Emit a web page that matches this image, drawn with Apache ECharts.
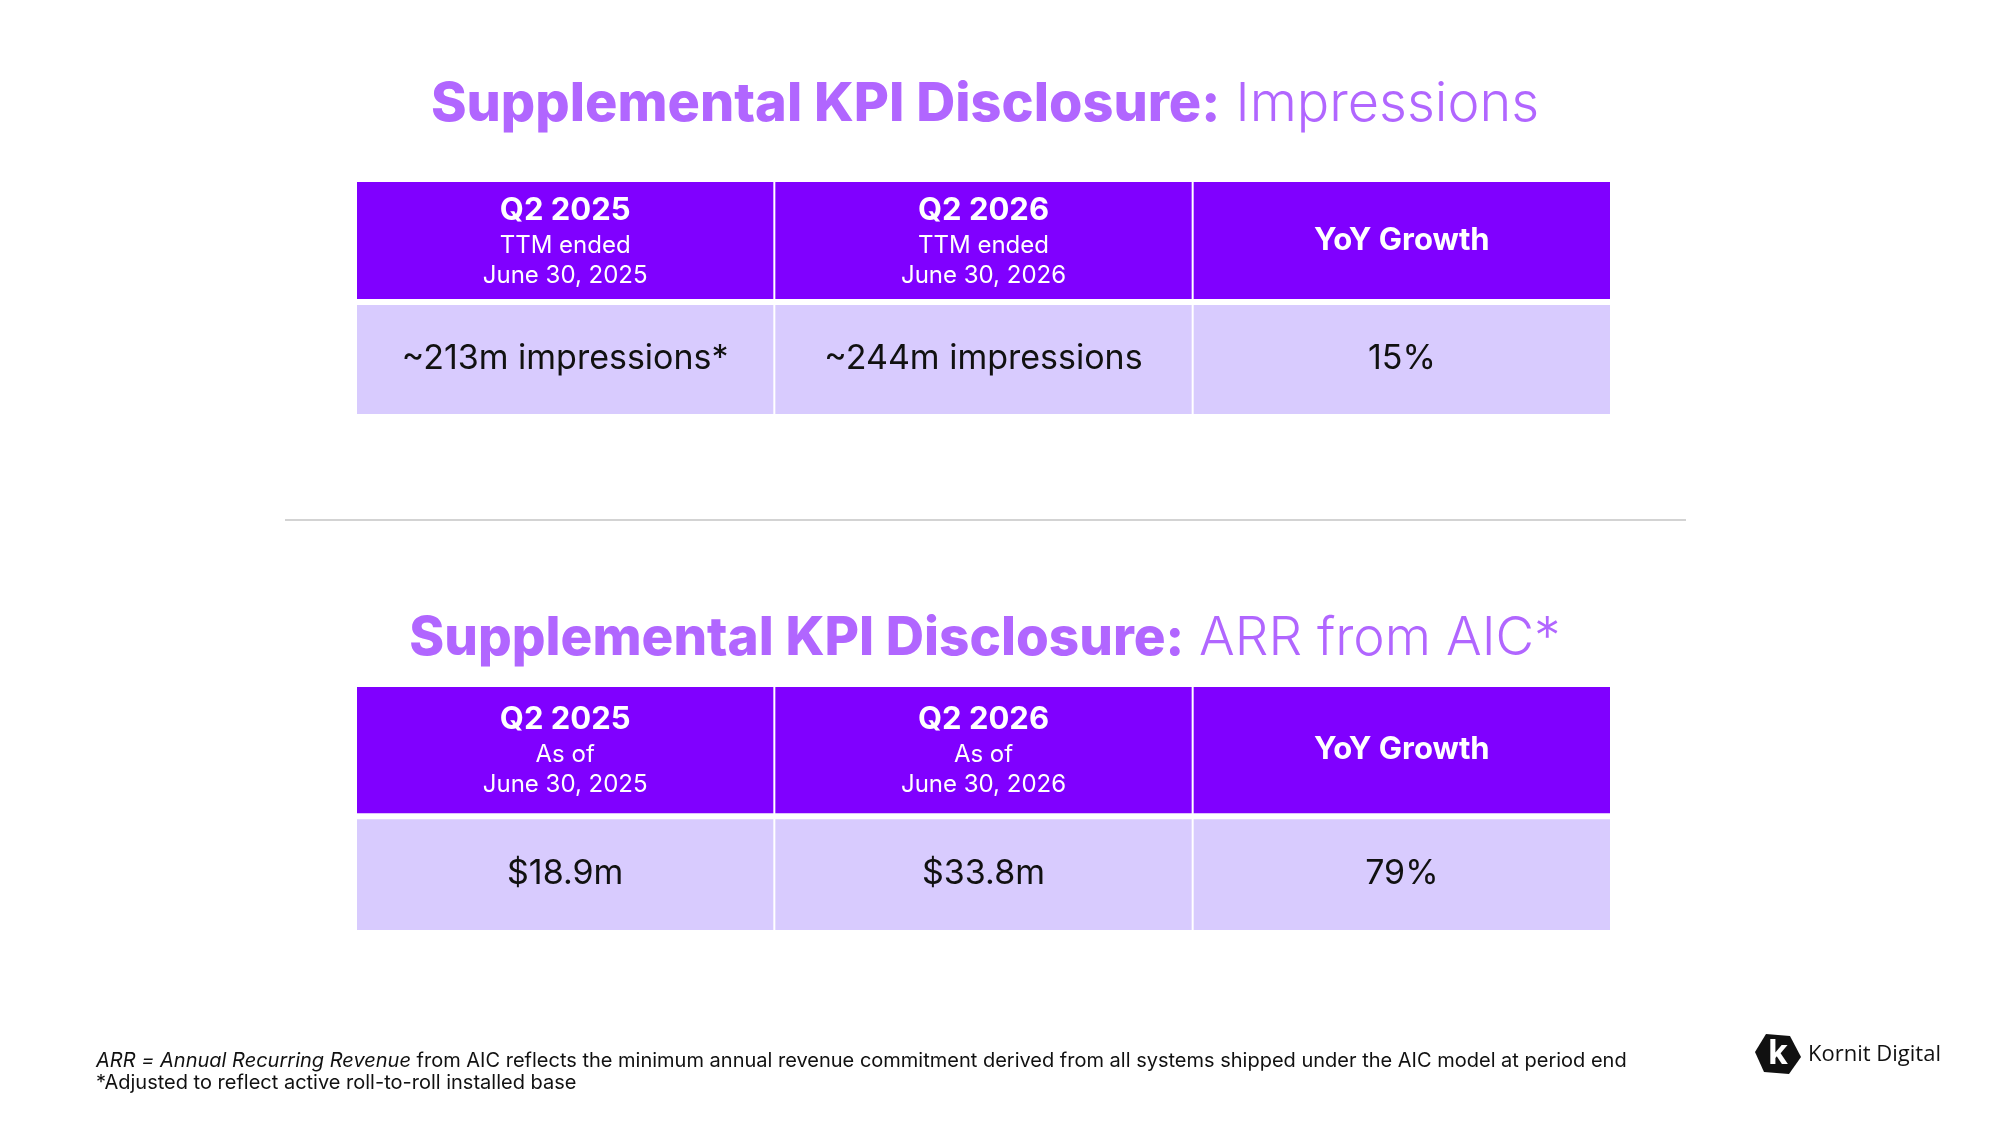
<!DOCTYPE html>
<html>
<head>
<meta charset="utf-8">
<title>Supplemental KPI Disclosure</title>
<script src="https://cdn.jsdelivr.net/npm/echarts@6/dist/echarts.min.js"></script>
<style>
  html, body { margin: 0; padding: 0; background: #ffffff; }
  #main { width: 2000px; height: 1125px; }
</style>
</head>
<body>
<div id="main"></div>
<script>
// column headings are the same for both tables
var columns = ['Q2 2025', 'Q2 2026', 'YoY Growth'];
var rows = ['header', 'body'];

// impressions table
var impSub = ['TTM ended\nJune 30, 2025', 'TTM ended\nJune 30, 2026', ''];
var impValues = ['~213m impressions*', '~244m impressions', '15%'];

// ARR table
var arrSub = ['As of\nJune 30, 2025', 'As of\nJune 30, 2026', ''];
var arrValues = ['$18.9m', '$33.8m', '79%'];

var footLine1Italic = 'ARR = Annual Recurring Revenue';
var footLine1 = ' from AIC reflects the minimum annual revenue commitment derived from all systems shipped under the AIC model at period end';
var footLine2 = '*Adjusted to reflect active roll-to-roll installed base';

var FONT = 'Inter, "Noto Sans", sans-serif';
var HEAD = '#8000ff';
var BODY = '#d8cbfe';
var GAP = 6;

// one [col,row] item for each cell
var cells = [];
rows.forEach(function (r, ri) {
    columns.forEach(function (c, ci) {
        cells.push([ci, ri]);
    });
});

// split = share of the table height taken by the header row
function makeRender(subs, values, split) {
    return function (params, api) {
        var col = api.value(0);
        var row = api.value(1);
        var c = api.coord([col, row]);
        var s = api.size([1, 1]);
        var total = s[1] * rows.length;
        var x = c[0] - s[0] / 2 + 1;
        var w = s[0] - 2;
        var y, h;
        if (row === 0) {
            y = c[1] - s[1] / 2;
            h = total * split - GAP / 2;
        } else {
            var bottom = c[1] + s[1] / 2;
            h = total * (1 - split) - GAP / 2;
            y = bottom - h;
        }
        var txt;
        if (row === 0) {
            txt = subs[col]
                ? '{b|' + columns[col] + '}\n' + subs[col].split('\n').map(function (l) { return '{s|' + l + '}'; }).join('\n')
                : '{b|' + columns[col] + '}';
        } else {
            txt = '{v|' + values[col] + '}';
        }
        return {
            type: 'group',
            children: [{
                type: 'rect',
                shape: { x: x, y: y, width: w, height: h },
                style: { fill: row === 0 ? HEAD : BODY }
            }, {
                type: 'text',
                style: {
                    x: c[0],
                    y: y + h / 2 + (row === 0 ? 0 : -1),
                    text: txt,
                    align: 'center',
                    verticalAlign: 'middle',
                    rich: {
                        b: { fontFamily: FONT, fontSize: 31, fontWeight: 'bold', fill: '#ffffff', lineHeight: 40 },
                        s: { fontFamily: FONT, fontSize: 24, fill: '#ffffff', lineHeight: 30 },
                        v: { fontFamily: FONT, fontSize: 34, fill: '#111111', lineHeight: 40 }
                    }
                }
            }]
        };
    };
}

function titleRich(size) {
    return {
        b: { fontFamily: FONT, fontSize: size, fontWeight: 800, color: '#b166ff', lineHeight: 64 },
        l: { fontFamily: FONT, fontSize: size, fontWeight: 300, color: '#b166ff', lineHeight: 64 }
    };
}

var myecharts = echarts.init(document.getElementById('main'));
var option = {
    backgroundColor: '#ffffff',
    animation: false,
    title: [{
        text: '{b|Supplemental KPI Disclosure:}{l| Impressions}',
        left: 980,
        textAlign: 'center',
        top: 68,
        textStyle: { rich: titleRich(54) }
    }, {
        text: '{b|Supplemental KPI Disclosure:}{l| ARR from AIC*}',
        left: 980,
        textAlign: 'center',
        top: 602,
        textStyle: { rich: titleRich(53) }
    }, {
        text: '{i|' + footLine1Italic + '}{n|' + footLine1 + '}\n{n|' + footLine2 + '}',
        left: 91,
        top: 1045,
        textStyle: {
            fontWeight: 'normal',
            rich: {
                i: { fontFamily: FONT, fontSize: 20, fontStyle: 'italic', fontWeight: 'normal', color: '#111111', lineHeight: 22 },
                n: { fontFamily: FONT, fontSize: 20, fontWeight: 'normal', color: '#111111', lineHeight: 22 }
            }
        }
    }],
    grid: [
        { left: 356, width: 1255, top: 182, height: 232 },
        { left: 356, width: 1255, top: 687, height: 243 }
    ],
    xAxis: [
        { type: 'category', gridIndex: 0, data: columns, show: false },
        { type: 'category', gridIndex: 1, data: columns, show: false }
    ],
    yAxis: [
        { type: 'category', gridIndex: 0, data: rows, inverse: true, show: false },
        { type: 'category', gridIndex: 1, data: rows, inverse: true, show: false }
    ],
    series: [{
        name: 'Impressions',
        type: 'custom',
        xAxisIndex: 0,
        yAxisIndex: 0,
        data: cells,
        renderItem: makeRender(impSub, impValues, 0.517)
    }, {
        name: 'ARR',
        type: 'custom',
        xAxisIndex: 1,
        yAxisIndex: 1,
        data: cells,
        renderItem: makeRender(arrSub, arrValues, 0.532)
    }],
    graphic: [{
        // divider between the two blocks
        type: 'line',
        shape: { x1: 285, y1: 520, x2: 1686, y2: 520 },
        style: { stroke: '#c4c4c4', lineWidth: 1.5 }
    }, {
        // logo mark
        type: 'polygon',
        shape: { points: [[1766, 1034], [1790, 1036], [1801, 1057], [1789, 1074], [1764, 1072], [1755, 1052]] },
        style: { fill: '#111111' }
    }, {
        type: 'text',
        style: { x: 1778, y: 1054, text: 'k', align: 'center', verticalAlign: 'middle', fontFamily: FONT, fontSize: 34, fontWeight: 'bold', fill: '#ffffff' }
    }, {
        type: 'text',
        style: { x: 1808, y: 1055, text: 'Kornit Digital', align: 'left', verticalAlign: 'middle', fontFamily: '"Open Sans", sans-serif', fontSize: 22, fill: '#111111' }
    }]
};
myecharts.setOption(option);
</script>
</body>
</html>
